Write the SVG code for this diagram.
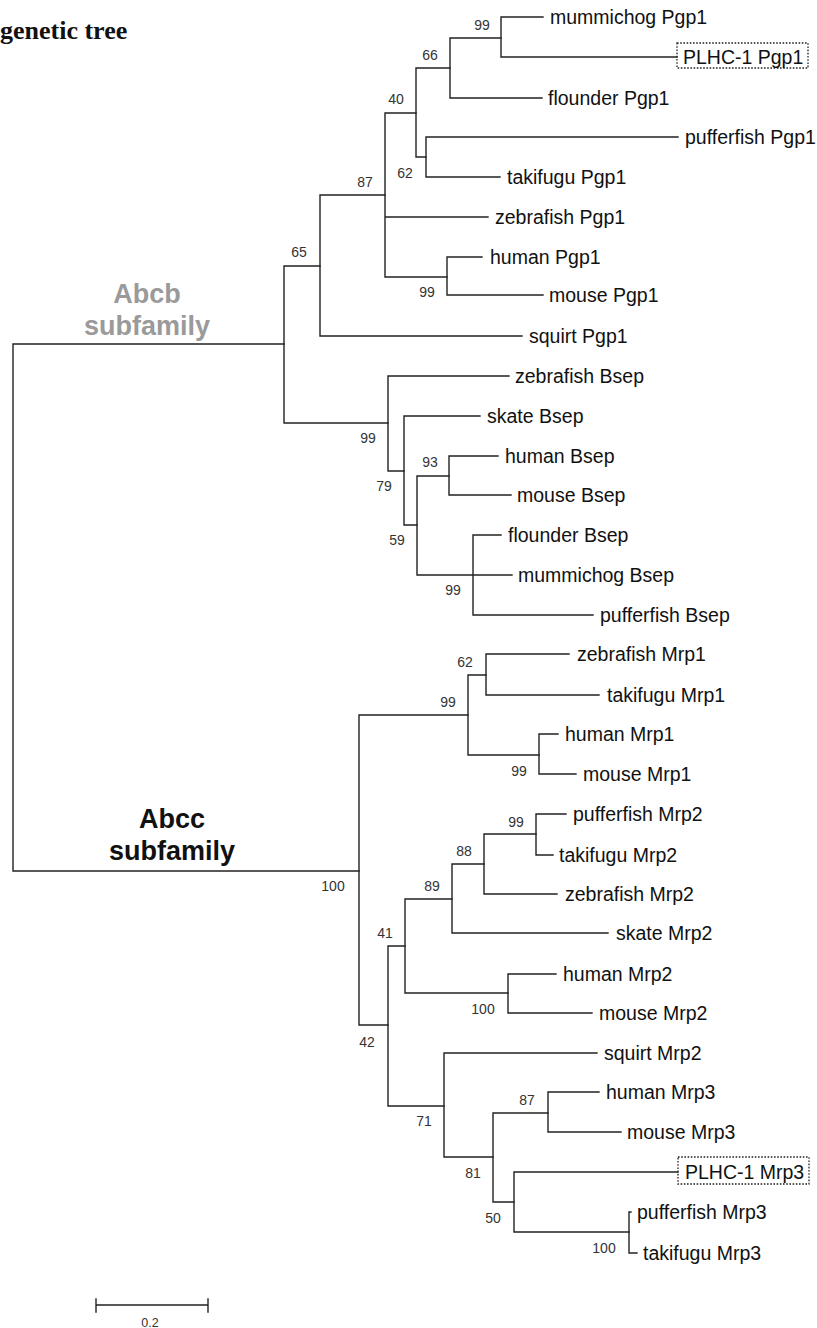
<svg xmlns="http://www.w3.org/2000/svg" width="817" height="1328" viewBox="0 0 817 1328">
<style>
.br{fill:none;stroke:#222;stroke-width:1.4;stroke-linecap:square}
.lb{font-family:"Liberation Sans",Arial,sans-serif;font-size:19.5px;fill:#111}
.bs{font-family:"Liberation Sans",Arial,sans-serif;font-size:14px;fill:#333;text-anchor:middle}
.fam{font-family:"Liberation Sans",Arial,sans-serif;font-size:27px;font-weight:bold;text-anchor:middle}
.box{fill:none;stroke:#222;stroke-width:1.3;stroke-dasharray:1.6 1.6}
</style>
<rect width="817" height="1328" fill="#fff"/>
<text x="0" y="39" font-family="'Liberation Serif','Times New Roman',serif" font-size="26" font-weight="bold" fill="#111">genetic tree</text>

<g id="family-labels">
<text class="fam" x="147" y="303" fill="#9a9a9a">Abcb</text>
<text class="fam" x="147" y="335" fill="#9a9a9a">subfamily</text>
<text class="fam" x="172" y="828" fill="#111">Abcc</text>
<text class="fam" x="172" y="860" fill="#111">subfamily</text>
</g>

<g id="connectors">
<!-- root -->
<path class="br" d="M13 344V871M13 344H284M13 871H359"/>
<!-- Abcb -->
<path class="br" d="M284 266V423M284 266H320M284 423H388"/>
<path class="br" d="M320 195V336M320 195H385M320 336H522"/>
<path class="br" d="M385 113V277M385 113H416M385 217H488M385 277H447"/>
<path class="br" d="M416 68V157M416 68H450M416 157H426"/>
<path class="br" d="M450 38V98M450 38H501M450 98H542"/>
<path class="br" d="M501 17V57M501 17H543M501 57H677"/>
<path class="br" d="M426 137V177M426 137H678M426 177H500"/>
<path class="br" d="M447 257V295M447 257H482M447 295H543"/>
<path class="br" d="M388 376V471M388 376H509M388 471H404"/>
<path class="br" d="M404 416V525M404 416H480M404 525H417"/>
<path class="br" d="M417 476V575M417 476H449M417 575H512"/>
<path class="br" d="M449 456V495M449 456H498M449 495H511"/>
<path class="br" d="M473 535V615M473 535H501M473 615H593"/>
<!-- Abcc -->
<path class="br" d="M359 715V1025M359 715H468M359 1025H388"/>
<path class="br" d="M468 675V755M468 675H486M468 755H539"/>
<path class="br" d="M486 654V695M486 654H569M486 695H599"/>
<path class="br" d="M539 734V774M539 734H558M539 774H576"/>
<path class="br" d="M388 946V1106M388 946H405M388 1106H444"/>
<path class="br" d="M405 899V993M405 899H452M405 993H508"/>
<path class="br" d="M452 864V933M452 864H484M452 933H608"/>
<path class="br" d="M484 834V894M484 834H536M484 894H557"/>
<path class="br" d="M536 814V855M536 814H566M536 855H553"/>
<path class="br" d="M508 974V1013M508 974H556M508 1013H592"/>
<path class="br" d="M444 1053V1157M444 1053H597M444 1157H493"/>
<path class="br" d="M493 1113V1202M493 1113H548M493 1202H514"/>
<path class="br" d="M548 1092V1132M548 1092H599M548 1132H621"/>
<path class="br" d="M514 1172V1232M514 1172H678M514 1232H629"/>
<path class="br" d="M629 1212V1253M629 1212H631M629 1253H637"/>
</g>

<g id="bootstrap">
<text class="bs" x="482" y="30">99</text>
<text class="bs" x="430" y="60">66</text>
<text class="bs" x="396" y="104">40</text>
<text class="bs" x="405" y="178">62</text>
<text class="bs" x="365" y="187">87</text>
<text class="bs" x="299" y="257">65</text>
<text class="bs" x="427" y="297">99</text>
<text class="bs" x="368" y="443">99</text>
<text class="bs" x="430" y="467">93</text>
<text class="bs" x="384" y="491">79</text>
<text class="bs" x="397" y="545">59</text>
<text class="bs" x="453" y="595">99</text>
<text class="bs" x="465" y="667">62</text>
<text class="bs" x="448" y="707">99</text>
<text class="bs" x="519" y="776">99</text>
<text class="bs" x="516" y="827">99</text>
<text class="bs" x="464" y="856">88</text>
<text class="bs" x="432" y="891">89</text>
<text class="bs" x="333" y="891">100</text>
<text class="bs" x="385" y="938">41</text>
<text class="bs" x="483" y="1014">100</text>
<text class="bs" x="367" y="1047">42</text>
<text class="bs" x="527" y="1105">87</text>
<text class="bs" x="424" y="1126">71</text>
<text class="bs" x="473" y="1178">81</text>
<text class="bs" x="493" y="1223">50</text>
<text class="bs" x="604" y="1253">100</text>
</g>

<g id="n-mummichog-pgp1"><text class="lb" x="550" y="24">mummichog Pgp1</text></g>
<g id="n-plhc1-pgp1"><rect class="box" x="677" y="43" width="131" height="25"/><text class="lb" x="683" y="64">PLHC-1 Pgp1</text></g>
<g id="n-flounder-pgp1"><text class="lb" x="548" y="105">flounder Pgp1</text></g>
<g id="n-pufferfish-pgp1"><text class="lb" x="685" y="144">pufferfish Pgp1</text></g>
<g id="n-takifugu-pgp1"><text class="lb" x="507" y="184">takifugu Pgp1</text></g>
<g id="n-zebrafish-pgp1"><text class="lb" x="495" y="224">zebrafish Pgp1</text></g>
<g id="n-human-pgp1"><text class="lb" x="490" y="264">human Pgp1</text></g>
<g id="n-mouse-pgp1"><text class="lb" x="549" y="302">mouse Pgp1</text></g>
<g id="n-squirt-pgp1"><text class="lb" x="529" y="343">squirt Pgp1</text></g>
<g id="n-zebrafish-bsep"><text class="lb" x="515" y="383">zebrafish Bsep</text></g>
<g id="n-skate-bsep"><text class="lb" x="487" y="423">skate Bsep</text></g>
<g id="n-human-bsep"><text class="lb" x="505" y="463">human Bsep</text></g>
<g id="n-mouse-bsep"><text class="lb" x="517" y="502">mouse Bsep</text></g>
<g id="n-flounder-bsep"><text class="lb" x="508" y="542">flounder Bsep</text></g>
<g id="n-mummichog-bsep"><text class="lb" x="518" y="582">mummichog Bsep</text></g>
<g id="n-pufferfish-bsep"><text class="lb" x="600" y="622">pufferfish Bsep</text></g>
<g id="n-zebrafish-mrp1"><text class="lb" x="577" y="661">zebrafish Mrp1</text></g>
<g id="n-takifugu-mrp1"><text class="lb" x="607" y="702">takifugu Mrp1</text></g>
<g id="n-human-mrp1"><text class="lb" x="565" y="741">human Mrp1</text></g>
<g id="n-mouse-mrp1"><text class="lb" x="583" y="781">mouse Mrp1</text></g>
<g id="n-pufferfish-mrp2"><text class="lb" x="573" y="821">pufferfish Mrp2</text></g>
<g id="n-takifugu-mrp2"><text class="lb" x="559" y="862">takifugu Mrp2</text></g>
<g id="n-zebrafish-mrp2"><text class="lb" x="565" y="901">zebrafish Mrp2</text></g>
<g id="n-skate-mrp2"><text class="lb" x="616" y="940">skate Mrp2</text></g>
<g id="n-human-mrp2"><text class="lb" x="563" y="981">human Mrp2</text></g>
<g id="n-mouse-mrp2"><text class="lb" x="599" y="1020">mouse Mrp2</text></g>
<g id="n-squirt-mrp2"><text class="lb" x="604" y="1060">squirt Mrp2</text></g>
<g id="n-human-mrp3"><text class="lb" x="606" y="1099">human Mrp3</text></g>
<g id="n-mouse-mrp3"><text class="lb" x="627" y="1139">mouse Mrp3</text></g>
<g id="n-plhc1-mrp3"><rect class="box" x="678" y="1157" width="131" height="27"/><text class="lb" x="685" y="1179">PLHC-1 Mrp3</text></g>
<g id="n-pufferfish-mrp3"><text class="lb" x="637" y="1219">pufferfish Mrp3</text></g>
<g id="n-takifugu-mrp3"><text class="lb" x="643" y="1260">takifugu Mrp3</text></g>

<g id="scale-bar">
<path class="br" d="M96 1305H208M96 1299V1312M208 1299V1312"/>
<text x="150" y="1327" font-family="'Liberation Sans',Arial,sans-serif" font-size="12.5" fill="#333" text-anchor="middle">0.2</text>
</g>
</svg>
